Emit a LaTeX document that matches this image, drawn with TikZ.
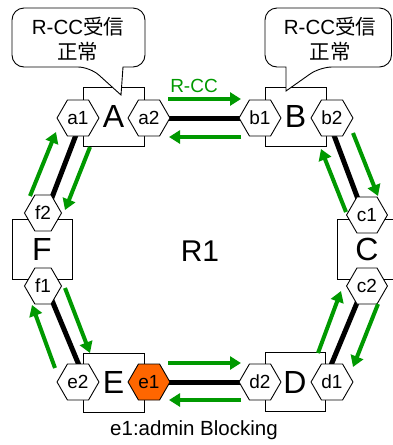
\documentclass[tikz,border=0pt]{standalone}
\usepackage{fontspec}
\setmainfont{Liberation Sans}
\newfontfamily\cjk{Noto Sans CJK JP}
\usetikzlibrary{arrows.meta,shapes.symbols}
\definecolor{grn}{RGB}{0,153,0}
\definecolor{org}{RGB}{255,102,0}
\begin{document}
\begin{tikzpicture}[x=1pt,y=-1pt,
  box/.style={draw, fill=white, line width=0.9pt, minimum width=61pt, minimum height=59pt, inner sep=0pt, font=\fontsize{32}{32}\selectfont},
  hexa/.style={shape=signal, signal to=west and east, signal pointer angle=120, draw, fill=white, line width=0.9pt, minimum width=37pt, minimum height=36pt, inner sep=0pt, font=\fontsize{19}{19}\selectfont},
  blk/.style={line width=5pt, black},
  garr/.style={line width=4pt, grn, -{Triangle[length=11pt,width=13pt]}},
  callout/.style={draw, fill=white, line width=0.9pt},
  ctext/.style={align=center, font=\fontsize{20.5}{25}\selectfont, inner sep=0pt}
]
\useasboundingbox (0,0) rectangle (393,445);
% boxes
\node[box] (A) at (113.5,116.5) {A};
\node[box] (B) at (295.5,116.5) {B};
\node[box, minimum width=60pt, minimum height=60pt] (F) at (42,249) {F};
\node[box, minimum width=61pt, minimum height=60pt, text width=0pt] (C) at (367.5,249) {};
\node[font=\fontsize{32}{32}\selectfont] (Ct) at (367,249) {C};
\node[box] (E) at (113.5,382.5) {E};
\node[box, minimum width=60pt] (D) at (295,382) {D};
% ring label
\node[font=\fontsize{30}{30}\selectfont] (R1) at (200,251) {R1};
% hex coordinates
\coordinate (pa1) at (78,118);
\coordinate (pa2) at (149,118);
\coordinate (pb1) at (260,118);
\coordinate (pb2) at (332,118);
\coordinate (pf2) at (43,213);
\coordinate (pf1) at (43,286);
\coordinate (pc1) at (367,215);
\coordinate (pc2) at (367,286);
\coordinate (pe2) at (78,382);
\coordinate (pe1) at (149,382);
\coordinate (pd2) at (260,382);
\coordinate (pd1) at (332,382);
% black links
\draw[blk] (pa2) -- (pb1);
\draw[blk] (pe1) -- (pd2);
\draw[blk] ([xshift=4.5pt]pa1) -- ([xshift=3pt]pf2);
\draw[blk] ([xshift=3pt]pf1) -- ([xshift=8pt]pe2);
\draw[blk] ([xshift=-4.5pt]pb2) -- ([xshift=-3pt]pc1);
\draw[blk] ([xshift=-3pt]pc2) -- ([xshift=-8pt]pd1);
% hexagons
\node[hexa] (a1) at (pa1) {a1};
\node[hexa] (a2) at (pa2) {a2};
\node[hexa] (b1) at (pb1) {b1};
\node[hexa] (b2) at (pb2) {b2};
\node[hexa] (f2) at (pf2) {f2};
\node[hexa] (f1) at (pf1) {f1};
\node[hexa] (c1) at (pc1) {c1};
\node[hexa] (c2) at (pc2) {c2};
\node[hexa] (e2) at (pe2) {e2};
\node[hexa, fill=org] (e1) at (pe1) {e1};
\node[hexa] (d2) at (pd2) {d2};
\node[hexa] (d1) at (pd1) {d1};
% callouts
\draw[callout] (12,40) [rounded corners=12pt] -- (12,67) -- (90,67) [sharp corners] -- (121,95) -- (123,67) [rounded corners=12pt] -- (145,67) -- (145,8) -- (12,8) -- cycle;
\node[ctext] (ca) at (78,39.5) {R-CC{\cjk 受信}\\{\cjk 正常}};
\draw[callout] (330,8) [rounded corners=12pt] -- (391.5,8) -- (391.5,67) -- (320,67) [sharp corners] -- (286,91) -- (286,67) [rounded corners=12pt] -- (265,67) -- (265,8) -- cycle;
\node[ctext] (cb) at (330,39.5) {R-CC{\cjk 受信}\\{\cjk 正常}};
% green arrow endpoints
\coordinate (t1s) at (168,99);  \coordinate (t1e) at (241,99);
\coordinate (t2s) at (241,137); \coordinate (t2e) at (169,137);
\coordinate (b1s) at (168,363); \coordinate (b1e) at (241,363);
\coordinate (b2s) at (241,400); \coordinate (b2e) at (169,400);
\coordinate (l1s) at (30,196);  \coordinate (l1e) at (56,132);
\coordinate (l2s) at (90,147);  \coordinate (l2e) at (65,210);
\coordinate (l3s) at (55,368);  \coordinate (l3e) at (32,305);
\coordinate (l4s) at (65,288);  \coordinate (l4e) at (90,353);
\coordinate (r1s) at (353,133); \coordinate (r1e) at (378,196);
\coordinate (r2s) at (346,212); \coordinate (r2e) at (321,149);
\coordinate (r3s) at (378,304); \coordinate (r3e) at (353,367);
\coordinate (r4s) at (318,353); \coordinate (r4e) at (341,291);
\draw[garr] (t1s) -- (t1e);
\draw[garr] (t2s) -- (t2e);
\draw[garr] (b1s) -- (b1e);
\draw[garr] (b2s) -- (b2e);
\draw[garr] (l1s) -- (l1e);
\draw[garr] (l2s) -- (l2e);
\draw[garr] (l3s) -- (l3e);
\draw[garr] (l4s) -- (l4e);
\draw[garr] (r1s) -- (r1e);
\draw[garr] (r2s) -- (r2e);
\draw[garr] (r3s) -- (r3e);
\draw[garr] (r4s) -- (r4e);
% labels
\node[anchor=base, text=grn, font=\fontsize{19}{19}\selectfont, inner sep=0pt] (rcc) at (194,92) {R-CC};
\node[anchor=base, font=\fontsize{20.5}{20.5}\selectfont, inner sep=0pt] (e1lab) at (194,435) {e1:admin Blocking};
\end{tikzpicture}
\end{document}
